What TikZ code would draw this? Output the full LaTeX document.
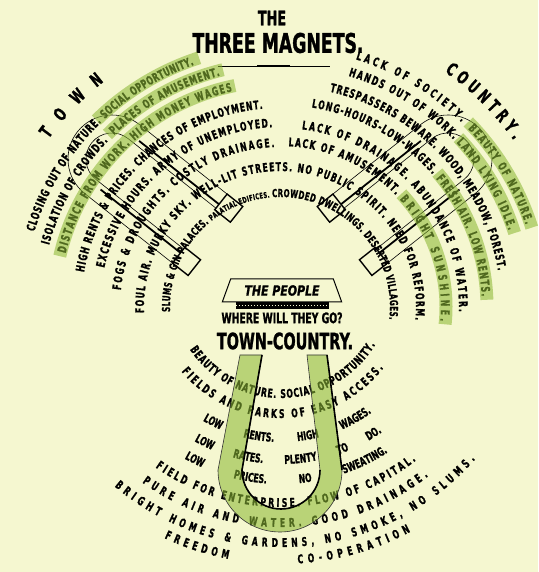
\documentclass[tikz,border=0pt]{standalone}
\usepackage{fontspec}
\usepackage{xcolor}
\usetikzlibrary{decorations.text,shapes.geometric,positioning}
\newfontfamily\magfont{DejaVu Sans Bold}[FakeStretch=0.64, FakeBold=1.2]
\newfontfamily\magitfont{DejaVu Sans Bold Oblique}[FakeStretch=0.78, FakeBold=1.2]
\definecolor{paper}{HTML}{F5F7D0}
\definecolor{leaf}{HTML}{8CB835}
\newcommand\fanfont{\magfont\fontsize{12}{14}\selectfont}
\newcommand\midfan{\magfont\fontsize{11}{13}\selectfont}
\newcommand\smallfan{\magfont\fontsize{8}{10}\selectfont}
\newcommand\bigfan{\magfont\fontsize{18}{20}\selectfont}

\tikzset{
  fan/.style={decorate, decoration={text along path, text align={fit to path}, text={|\fanfont|#1}}},
  widefan/.style={decorate, decoration={text along path, text align={fit to path stretching spaces}, text={|\fanfont|#1}}},
  bigarc/.style={decorate, decoration={text along path, text align={fit to path}, text={|\bigfan|#1}}},
  band/.style={draw=leaf, line width=13pt, opacity=0.57},
  pole/.style={draw, line width=1.4pt, fill=paper},
  rim/.style={line width=0.6pt},
}

\begin{document}
\begin{tikzpicture}[x=1pt, y=1pt]
  \useasboundingbox (0,0) rectangle (538,572);
  \fill[paper] (0,0) rectangle (538,572);
  \coordinate (fanhub) at (280,265);
  \coordinate (tchub) at (281,284);

  % title
  \node[font=\magfont\fontsize{20}{22}\selectfont] (the) at (272,554) {THE};
  \node[font=\magfont\fontsize{27}{29}\selectfont] (magnets) at (278,529) {THREE MAGNETS.};
  \draw[rim] (218,506) -- (330,506);
  \draw[line width=1.6pt] (257,506) -- (290,506);

  % town magnet
  \begin{scope}[shift={(112,413)}, rotate=-38.4]
    \draw[rim] (112,44) -- (0,44) arc[start angle=90, end angle=270, radius=44] -- (112,-44);
    \draw[rim] (112,26) -- (0,26) arc[start angle=90, end angle=270, radius=26] -- (112,-26);
    \draw[line width=1.8pt] (10,31) -- (112,31);
    \draw[line width=1.8pt] (10,-31) -- (112,-31);
    \draw[pole] (112,24) rectangle (132,44);
    \draw[pole] (112,-24) rectangle (132,-44);
  \end{scope}

  % country magnet
  \begin{scope}[shift={(448,413)}, rotate=218.4]
    \draw[rim] (112,44) -- (0,44) arc[start angle=90, end angle=270, radius=44] -- (112,-44);
    \draw[rim] (112,26) -- (0,26) arc[start angle=90, end angle=270, radius=26] -- (112,-26);
    \draw[line width=1.8pt] (10,31) -- (112,31);
    \draw[line width=1.8pt] (10,-31) -- (112,-31);
    \draw[pole] (112,24) rectangle (132,44);
    \draw[pole] (112,-24) rectangle (132,-44);
  \end{scope}

  % town
  \path[bigarc={TOWN}] (fanhub) ++(144:286) arc[start angle=144, end angle=128, radius=286];
  \path[fan={CLOSING OUT OF NATURE.}] (fanhub) ++(163:257) arc[start angle=163, end angle=134, radius=257];
  \path[fan={SOCIAL OPPORTUNITY.}] (fanhub) ++(133:257) arc[start angle=133, end angle=109.5, radius=257];
  \path[fan={ISOLATION OF CROWDS.}] (fanhub) ++(165:239) arc[start angle=165, end angle=136, radius=239];
  \path[fan={PLACES OF AMUSEMENT.}] (fanhub) ++(134:239) arc[start angle=134, end angle=104.5, radius=239];
  \path[fan={DISTANCE FROM WORK. HIGH MONEY WAGES}] (fanhub) ++(166:221) arc[start angle=166, end angle=102.5, radius=221];
  \path[fan={HIGH RENTS {\&} PRICES. CHANCES OF EMPLOYMENT.}] (fanhub) ++(170:199) arc[start angle=170, end angle=95, radius=199];
  \path[fan={EXCESSIVE HOURS. ARMY OF UNEMPLOYED.}] (fanhub) ++(167.5:180) arc[start angle=167.5, end angle=92.5, radius=180];
  \path[fan={FOGS {\&} DROUGHTS. COSTLY DRAINAGE.}] (fanhub) ++(174:160) arc[start angle=174, end angle=92, radius=160];
  \path[fan={FOUL AIR. MURKY SKY. WELL-LIT STREETS. NO PUBLIC SPIRIT. NEED FOR REFORM.}] (fanhub) ++(182.5:136) arc[start angle=182.5, end angle=-5.5, radius=136];
  \path[decorate, decoration={text along path, text align={fit to path},
      text={|\midfan|SLUMS {\&} GIN PALACES. |\smallfan|PALATIAL EDIFICES. |\midfan|CROWDED DWELLINGS. DESERTED VILLAGES.}}]
    (fanhub) ++(182.5:110) arc[start angle=182.5, end angle=-6.5, radius=110];

  % country
  \path[bigarc={COUNTRY.}] (fanhub) ++(55:287) arc[start angle=55, end angle=35.5, radius=287];
  \path[fan={LACK OF SOCIETY.}] (fanhub) ++(73:259) arc[start angle=73, end angle=45.5, radius=259];
  \path[fan={BEAUTY OF NATURE.}] (fanhub) ++(43.5:259) arc[start angle=43.5, end angle=18.5, radius=259];
  \path[fan={HANDS OUT OF WORK.}] (fanhub) ++(73.5:241) arc[start angle=73.5, end angle=44, radius=241];
  \path[fan={LAND LYING IDLE.}] (fanhub) ++(43:241) arc[start angle=43, end angle=18.5, radius=241];
  \path[fan={TRESPASSERS BEWARE. WOOD, MEADOW, FOREST.}] (fanhub) ++(77:221) arc[start angle=77, end angle=9.5, radius=221];
  \path[fan={LONG-HOURS-LOW-WAGES.}] (fanhub) ++(81:202) arc[start angle=81, end angle=41, radius=202];
  \path[fan={FRESH AIR. LOW RENTS.}] (fanhub) ++(39.5:202) arc[start angle=39.5, end angle=3, radius=202];
  \path[fan={LACK OF DRAINAGE. ABUNDANCE OF WATER.}] (fanhub) ++(83:179) arc[start angle=83, end angle=-1.5, radius=179];
  \path[fan={LACK OF AMUSEMENT.}] (fanhub) ++(87:161) arc[start angle=87, end angle=44, radius=161];
  \path[fan={BRIGHT SUNSHINE.}] (fanhub) ++(42:161) arc[start angle=42, end angle=-5, radius=161];

  % highlights
  \draw[band] (fanhub) ++(134.5:262) arc[start angle=134.5, end angle=108, radius=262];
  \draw[band] (fanhub) ++(135:244) arc[start angle=135, end angle=103.5, radius=244];
  \draw[band] (fanhub) ++(167:226) arc[start angle=167, end angle=101.5, radius=226];
  \draw[band] (fanhub) ++(44.5:264) arc[start angle=44.5, end angle=17.5, radius=264];
  \draw[band] (fanhub) ++(43.5:246) arc[start angle=43.5, end angle=17.5, radius=246];
  \draw[band] (fanhub) ++(40.5:207) arc[start angle=40.5, end angle=2, radius=207];
  \draw[band] (fanhub) ++(43:166) arc[start angle=43, end angle=-6, radius=166];

  % the people
  \node[trapezium, draw, line width=1pt, trapezium left angle=70, trapezium right angle=70,
        minimum width=90pt, minimum height=23pt, inner xsep=1pt,
        font=\magitfont\fontsize{14}{16}\selectfont] (people) at (282,281.5) {THE PEOPLE};
  \node[draw, fill=black, minimum width=92pt, minimum height=6pt, inner sep=0pt, below=0pt of people] (strip) {};
  \draw[paper, line width=1pt, dash pattern=on 1.5pt off 1.5pt] (strip.west) -- (strip.east);
  \node[below=0pt of strip, font=\magfont\fontsize{14.5}{16}\selectfont] (where) {WHERE WILL THEY GO?};

  % town-country
  \node[font=\magfont\fontsize{22.5}{24}\selectfont] (towncountry) at (285,231) {TOWN-COUNTRY.};
  \path[fan={BEAUTY OF NATURE. SOCIAL OPPORTUNITY.}] (tchub) ++(214:110) arc[start angle=214, end angle=329, radius=110];
  \path[fan={FIELDS AND PARKS OF EASY ACCESS.}] (tchub) ++(220:130) arc[start angle=220, end angle=322, radius=130];
  \path[widefan={LOW RENTS. HIGH WAGES.}] (tchub) ++(239.5:154) arc[start angle=239.5, end angle=306, radius=154];
  \path[widefan={LOW RATES. PLENTY TO DO.}] (tchub) ++(240.5:176) arc[start angle=240.5, end angle=305, radius=176];
  \path[widefan={LOW PRICES. NO SWEATING.}] (tchub) ++(240.5:196) arc[start angle=240.5, end angle=303, radius=196];
  \path[fan={FIELD FOR ENTERPRISE. FLOW OF CAPITAL.}] (tchub) ++(235:219) arc[start angle=235, end angle=308, radius=219];
  \path[fan={PURE AIR AND WATER. GOOD DRAINAGE.}] (tchub) ++(234.5:239) arc[start angle=234.5, end angle=308, radius=239];
  \path[fan={BRIGHT HOMES {\&} GARDENS, NO SMOKE, NO SLUMS.}] (tchub) ++(230:259) arc[start angle=230, end angle=318.5, radius=259];
  \path[fan={FREEDOM}] (tchub) ++(245:276) arc[start angle=245, end angle=259, radius=276];
  \path[fan={CO-OPERATION}] (tchub) ++(273.5:276) arc[start angle=273.5, end angle=298, radius=276];

  % town-country magnet
  \fill[leaf, opacity=0.57] (240,217) -- (218,102) arc[start angle=180, end angle=360, radius=62]
    -- (327,217) -- (307,217) -- (320,102) arc[start angle=0, end angle=-180, radius=39] -- (262,217) -- cycle;
  \draw[rim, black!80] (240,217) -- (218,102) arc[start angle=180, end angle=360, radius=62]
    -- (327,217) -- (307,217) -- (320,102) arc[start angle=0, end angle=-180, radius=39] -- (262,217) -- cycle;
  \draw[line width=1.6pt] (262,217) -- (242,102) arc[start angle=180, end angle=360, radius=39];
  \draw[line width=1.6pt] (327,217) -- (342,102);
\end{tikzpicture}
\end{document}
